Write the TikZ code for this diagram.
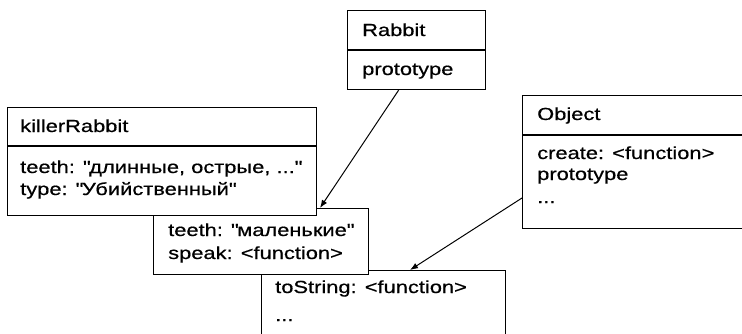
\documentclass[tikz,border=0pt]{standalone}
\usepackage{fontspec}
\setmainfont[FakeStretch=1.25,FakeBold=0.6]{Liberation Sans}
\usetikzlibrary{arrows.meta}

\newcommand{\qq}[1]{\textquotedbl#1\textquotedbl}

\tikzset{
  objbox/.style={draw, fill=white, line width=1.2pt, anchor=north west, inner sep=0pt},
  field/.style={anchor=base west, inner sep=0pt, font=\fontsize{17.5}{22}\selectfont},
  link/.style={line width=1pt, -{Latex[length=8pt,width=6pt]}},
}

\begin{document}
\begin{tikzpicture}[x=1pt,y=-1pt]
  \useasboundingbox (0,0) rectangle (742,333);
  \clip (0,0) rectangle (742,333);

  % Object.prototype (runs off the bottom edge)
  \node[objbox, minimum width=244pt, minimum height=100pt] (base) at (261,270) {};
  \node[field] (baseToString) at (275,293) {toString: <function>};
  \node[field] (baseDots) at (275,321) {...};

  % Rabbit.prototype
  \node[objbox, minimum width=215pt, minimum height=66pt] (mid) at (153,208) {};
  \node[field] (midTeeth) at (168,236) {teeth: \qq{маленькие}};
  \node[field] (midSpeak) at (168,259) {speak: <function>};

  % killerRabbit
  \node[objbox, minimum width=309pt, minimum height=108pt] (killer) at (7,107) {};
  \draw[line width=1.2pt] ([yshift=-39pt]killer.north west) -- ([yshift=-39pt]killer.north east);
  \node[field] (killerName) at (20,132) {killerRabbit};
  \node[field] (killerTeeth) at (20,173) {teeth: \qq{длинные, острые, ...}};
  \node[field] (killerType) at (20,195) {type: \qq{Убийственный}};

  % Rabbit
  \node[objbox, minimum width=138pt, minimum height=79pt] (rabbit) at (347,10) {};
  \draw[line width=1.2pt] ([yshift=-40pt]rabbit.north west) -- ([yshift=-40pt]rabbit.north east);
  \node[field] (rabbitName) at (362,36) {Rabbit};
  \node[field] (rabbitProto) at (362,75) {prototype};

  % Object (runs off the right edge)
  \node[objbox, minimum width=260pt, minimum height=133pt] (object) at (522,95) {};
  \draw[line width=1.2pt] ([yshift=-40pt]object.north west) -- ([yshift=-40pt]object.north east);
  \node[field] (objectName) at (537,120) {Object};
  \node[field] (objectCreate) at (537,159) {create: <function>};
  \node[field] (objectProto) at (537,180) {prototype};
  \node[field] (objectDots) at (537,203) {...};

  % prototype links
  \draw[link] ([xshift=-18pt]rabbit.south) -- ([xshift=167pt]mid.north west);
  \draw[link] ([yshift=-103pt]object.north west) -- ([xshift=149pt]base.north west);
\end{tikzpicture}
\end{document}
